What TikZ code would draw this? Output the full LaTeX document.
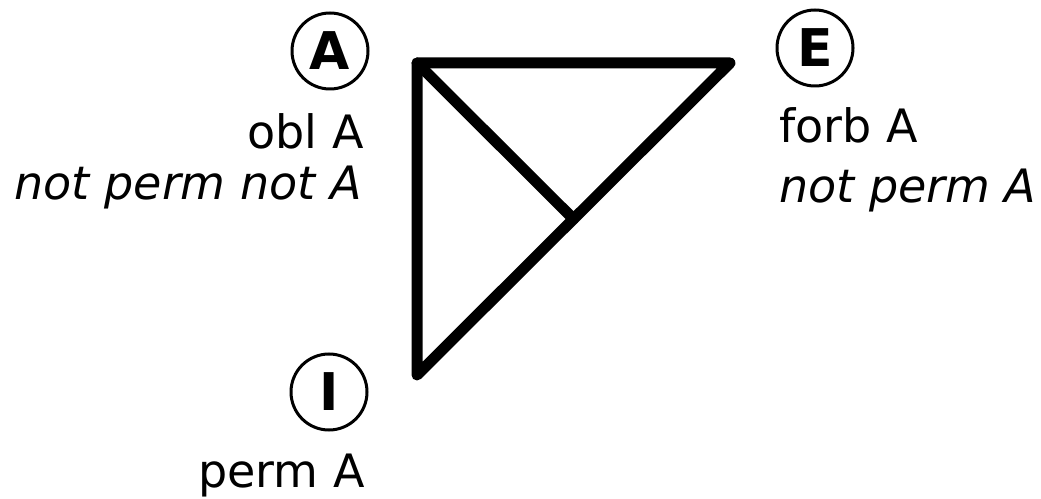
\documentclass[tikz,border=0pt]{standalone}
\usepackage{fontspec}
\setmainfont{DejaVu Sans}
\begin{document}
\begin{tikzpicture}[x=1pt,y=1pt,
  edge/.style={line width=11pt,line cap=round,line join=round},
  corner/.style={circle,draw,line width=3pt,minimum size=76pt,inner sep=0pt,font=\fontsize{52}{52}\selectfont\bfseries},
  lbl/.style={inner sep=0pt,font=\fontsize{46}{46}\selectfont},
  ilbl/.style={lbl,font=\fontsize{46}{46}\selectfont\itshape}]
\useasboundingbox (0,0) rectangle (1041,498);
\coordinate (a) at (417,435);
\coordinate (e) at (730,435);
\coordinate (i) at (417,123);
\coordinate (m) at (573.5,279);
\draw[edge] (i) -- (a) -- (e) -- (i);
\draw[edge] (a) -- (m);
\node[corner] (ca) at (330,447) {A};
\node[corner] (ce) at (815,450) {E};
\node[corner] (ci) at (329,106) {I};
\node[lbl,anchor=base east] (obl) at (364,349) {obl A};
\node[ilbl,anchor=base east] (npna) at (362,298) {not perm not A};
\node[lbl,anchor=base west] (forb) at (779,355) {forb A};
\node[ilbl,anchor=base west] (npa) at (779,295) {not perm A};
\node[lbl,anchor=base east] (perm) at (365,11) {perm A};
\end{tikzpicture}
\end{document}
